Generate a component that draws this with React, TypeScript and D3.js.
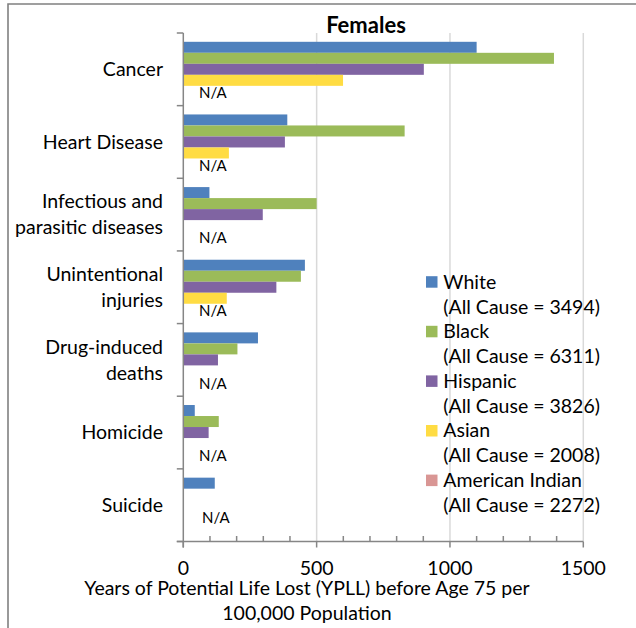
import React from 'react';
import * as d3 from 'd3';

// causes of death, top to bottom (line breaks as in the source)
const categories = ['Cancer', 'Heart Disease', 'Infectious', 'Unintentional', 'Drug', 'Homicide', 'Suicide'];
const categoryLines = [
    ['Cancer'],
    ['Heart Disease'],
    ['Infectious and', 'parasitic diseases'],
    ['Unintentional', 'injuries'],
    ['Drug-induced', 'deaths'],
    ['Homicide'],
    ['Suicide'],
];

const seriesNames = ['White', 'Black', 'Hispanic', 'Asian', 'American Indian'];
const seriesColors = ['#4F81BD', '#9BBB59', '#8064A2', '#FFDC43', '#D99694'];
const allCause = [3494, 6311, 3826, 2008, 2272];

// YPLL per 100,000 (null = no bar)
const white = [1100, 390, 98, 456, 280, 43, 118];
const black = [1390, 830, 500, 441, 203, 133, null];
const hispanic = [902, 381, 298, 349, 130, 95, null];
const asian = [599, 171, null, 163, null, null, null];
const americanIndian = [null, null, null, null, null, null, null];

const seriesValues = [white, black, hispanic, asian, americanIndian];

const xTicks = [0, 500, 1000, 1500];
const xMinor = d3.range(100, 1500, 100).filter((v) => v % 500 !== 0);

const FONT = 'Lato, "Noto Sans", sans-serif';
const AXIS_COLOR = '#868686';
const GRID_COLOR = '#D9D9D9';

export default function App() {
    const width = 636;
    const height = 628;
    const plot = { left: 183.3, right: 583.3, top: 33, bottom: 541.5 };

    const x = d3.scaleLinear([0, 1500], [plot.left, plot.right]);
    const y = d3.scaleBand(categories, [plot.top, plot.bottom]);
    const inner = d3
        .scaleBand(seriesNames, [0, y.bandwidth()])
        .paddingInner(0)
        .paddingOuter(0.8);

    const boundaries = d3.range(categories.length + 1).map((k) => plot.top + k * y.step());

    return (
        <svg
            width={width}
            height={height}
            style={{ position: 'absolute', left: 0, top: 0, background: '#fff' }}
            fontFamily={FONT}
        >
            {/* outer frame (cropped on right/bottom) */}
            <path d={`M8,${height + 2}V4H${width + 2}`} fill="none" stroke="#808080" strokeWidth={1.6} />

            <text x={366} y={33} textAnchor="middle" fontSize={22} fontWeight="bold" fill="#000">
                Females
            </text>

            {/* gridlines */}
            {xTicks.slice(1).map((t) => (
                <line key={t} x1={x(t)} x2={x(t)} y1={plot.top} y2={plot.bottom} stroke={GRID_COLOR} strokeWidth={1.5} />
            ))}

            {/* bars */}
            {seriesValues.map((vals, s) =>
                vals.map((v, c) =>
                    v == null ? null : (
                        <rect
                            key={`${s}-${c}`}
                            x={x(0)}
                            y={y(categories[c]) + inner(seriesNames[s])}
                            width={x(v) - x(0)}
                            height={inner.bandwidth()}
                            fill={seriesColors[s]}
                        />
                    )
                )
            )}

            {/* N/A labels for American Indian */}
            {categories.map((c, i) => {
                const last = i === categories.length - 1;
                const slot = last ? seriesNames[3] : seriesNames[4];
                const cy = y(c) + inner(slot) + inner.bandwidth() / 2 + (last ? 2 : 1.5);
                return (
                    <text key={c} x={last ? 202 : 199} y={cy} dy="0.35em" fontSize={15} fill="#000">
                        N/A
                    </text>
                );
            })}

            {/* y axis */}
            <line x1={plot.left} x2={plot.left} y1={plot.top} y2={plot.bottom + 6} stroke={AXIS_COLOR} strokeWidth={1.5} />
            {boundaries.map((b, i) => (
                <line key={i} x1={plot.left - 6.5} x2={plot.left} y1={b} y2={b} stroke={AXIS_COLOR} strokeWidth={1.5} />
            ))}

            {/* x axis */}
            <line x1={plot.left - 6.5} x2={plot.right} y1={plot.bottom} y2={plot.bottom} stroke={AXIS_COLOR} strokeWidth={1.5} />
            {xTicks.map((t) => (
                <line key={t} x1={x(t)} x2={x(t)} y1={plot.bottom} y2={plot.bottom + 6} stroke={AXIS_COLOR} strokeWidth={1.5} />
            ))}
            {xMinor.map((t) => (
                <line key={t} x1={x(t)} x2={x(t)} y1={plot.bottom - 5.5} y2={plot.bottom} stroke={AXIS_COLOR} strokeWidth={1.5} />
            ))}
            {xTicks.map((t) => (
                <text key={t} x={x(t)} y={568} dy="0.35em" textAnchor="middle" fontSize={19.5} fill="#000">
                    {t}
                </text>
            ))}

            {/* category labels */}
            {categories.map((c, i) => {
                const lines = categoryLines[i];
                const cy = y(c) + y.bandwidth() / 2;
                return lines.map((ln, j) => (
                    <text
                        key={`${c}-${j}`}
                        x={163}
                        y={cy + (j - (lines.length - 1) / 2) * 26}
                        dy="0.35em"
                        textAnchor="end"
                        fontSize={19.5}
                        fill="#000"
                    >
                        {ln}
                    </text>
                ));
            })}

            {/* x axis title */}
            <text x={307} y={588} dy="0.35em" textAnchor="middle" fontSize={19.5} fill="#000">
                Years of Potential Life Lost (YPLL) before Age 75 per
            </text>
            <text x={307} y={613} dy="0.35em" textAnchor="middle" fontSize={19.5} fill="#000">
                100,000 Population
            </text>

            {/* legend */}
            {seriesNames.map((name, i) => {
                const ly = 281.7 + i * 49.6;
                return (
                    <g key={name}>
                        <rect x={426} y={ly - 5.5} width={11.5} height={11.5} fill={seriesColors[i]} />
                        <text x={443.3} y={ly} dy="0.35em" fontSize={19.5} fill="#000">
                            {name}
                        </text>
                        <text x={443.3} y={ly + 25} dy="0.35em" fontSize={19.5} fill="#000">
                            {`(All Cause = ${allCause[i]})`}
                        </text>
                    </g>
                );
            })}
        </svg>
    );
}
